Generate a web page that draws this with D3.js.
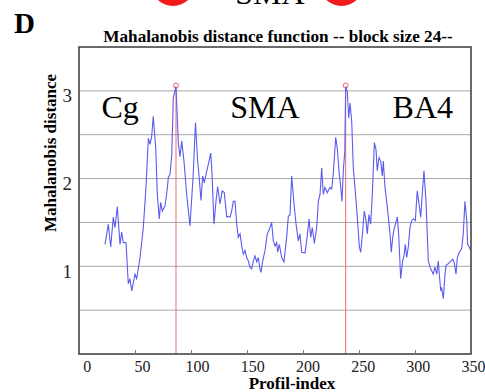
<!DOCTYPE html>
<html>
<head>
<meta charset="utf-8">
<script src="https://cdn.jsdelivr.net/npm/d3@7/dist/d3.min.js"></script>
<style>
  body { margin: 0; background: #fff; }
  svg { display: block; }
  text { font-family: "Liberation Serif", "Times New Roman", serif; }
</style>
</head>
<body>
<div id="chart"></div>
<script>
// Mahalanobis distance along the profile (panel D)

const profileIndex = [
    23.2, 26.2, 28.3, 30.6, 32.1, 34.2, 36.6, 38.1, 39.6, 42, 44, 45.5, 47.1, 50, 51.5, 54.5,
    57.4, 59.8, 61.9, 63.4, 64.9, 66.3, 68.5, 69.9, 71.7, 72.9, 74.4, 76.8, 78.8, 79.7, 81.3, 82.8,
    84.2, 86.6, 88.7, 90.2, 91.7, 93.8, 96.2, 99.1, 102, 104, 105.8, 107.4, 108.9, 110.4, 111.9, 113.8,
    115.4, 117.6, 118.8, 120.5, 122.3, 123.8, 125.9, 127.9, 129.7, 131.9, 133.3, 134.8, 136.3, 137.8, 139.3, 140.8,
    142.2, 143.8, 145.3, 146.7, 148.2, 149.7, 151.2, 152.7, 154.2, 155.6, 157.1, 158.7, 160.1, 161.6, 162.5, 164,
    166.1, 168.1, 169.9, 172, 173.5, 175, 176.5, 177.4, 178.8, 181, 183, 185.4, 186.9, 188.4, 189.9, 192,
    193.8, 195.8, 197.3, 198.8, 201.8, 203.3, 205.4, 206.9, 208.3, 210.1, 212.2, 213.7, 215.2, 216.7, 218.1, 219.6,
    221.7, 224.1, 225.6, 227, 229.2, 230.6, 232.1, 233.7, 234.8, 236, 237.3, 238.1, 239.6, 240.8, 242, 243.5,
    244.9, 246.4, 248.5, 250.3, 251.5, 253.3, 254.7, 256.3, 257.4, 258.9, 260.4, 261.9, 263.7, 265.2, 266.3, 267.9,
    269.4, 270.8, 271.7, 273.2, 274.7, 276.2, 277.7, 278.8, 280.1, 281.3, 283, 284.2, 285.4, 287.2, 289, 290.2,
    291.3, 292.6, 294, 295.5, 297, 298.5, 300.3, 302, 303.6, 305.1, 306.9, 308, 309.8, 311.9, 313.4, 314.9,
    316.3, 317.9, 319.4, 320.8, 321.7, 323, 323.8, 325.3, 326.8, 327.7, 329.7, 331.9, 333.7, 335.1, 336.6, 337.8,
    339.6, 341.7, 343.1, 344.6, 346.2, 347, 348.5, 349.7
];

const distance = [
    1.25, 1.48, 1.22, 1.56, 1.44, 1.68, 1.25, 1.39, 1.27, 1.27, 0.80, 0.86, 0.72, 0.91, 0.86, 1.10,
    1.44, 1.90, 2.46, 2.39, 2.48, 2.71, 2.35, 1.82, 1.54, 1.73, 1.63, 1.69, 1.88, 2.01, 2.05, 2.27,
    2.92, 3.05, 2.40, 2.25, 2.43, 2.19, 1.81, 1.46, 2.05, 2.64, 2.22, 2.00, 1.75, 2.03, 1.95, 2.07,
    2.16, 2.29, 2.05, 1.48, 1.74, 1.91, 1.71, 1.86, 1.84, 1.56, 1.57, 1.56, 1.63, 1.74, 1.74, 1.48,
    1.33, 1.37, 1.23, 1.14, 1.18, 1.10, 1.06, 0.99, 0.97, 1.06, 1.12, 1.05, 1.10, 0.97, 0.93, 1.06,
    1.18, 1.37, 1.42, 1.50, 1.29, 1.23, 1.27, 1.16, 1.25, 1.10, 1.05, 1.33, 1.57, 1.59, 2.03, 1.71,
    1.48, 1.29, 1.37, 1.16, 1.15, 1.29, 1.54, 1.33, 1.44, 1.26, 1.44, 1.74, 1.82, 2.12, 1.82, 1.90,
    1.84, 1.90, 1.88, 2.05, 2.47, 2.35, 2.09, 1.90, 1.74, 2.09, 2.31, 3.05, 2.99, 2.69, 2.86, 2.65,
    2.12, 1.90, 1.56, 1.22, 1.16, 1.40, 1.63, 1.52, 1.37, 1.59, 1.48, 1.82, 2.41, 2.33, 2.09, 2.24,
    2.20, 2.03, 2.20, 1.90, 1.74, 1.56, 1.37, 1.16, 1.33, 1.42, 1.50, 1.56, 1.37, 0.86, 1.06, 1.12,
    1.25, 1.10, 1.22, 1.44, 1.52, 1.54, 1.52, 1.86, 1.71, 1.56, 1.90, 2.09, 1.74, 1.06, 0.99, 0.95,
    0.91, 0.99, 0.91, 1.06, 0.91, 0.72, 0.76, 0.63, 0.91, 1.01, 1.03, 1.06, 1.08, 1.04, 0.91, 1.10,
    1.16, 1.20, 1.37, 1.74, 1.52, 1.25, 1.22, 1.18
];

// the two maxima marked with red lines
const peakIndex = [86.6, 238.1];
const peakValue = [3.06, 3.06];

const regionLabels = ['Cg', 'SMA', 'BA4'];
const regionLabelAt = [20, 135, 280];

const xTicks = [0, 50, 100, 150, 200, 250, 300, 350];
const yTicks = [1, 2, 3];
const yGrid = [0.5, 1, 1.5, 2, 2.5, 3];

const serif = '"Liberation Serif", "Times New Roman", Times, serif';

const margin = { top: 47, right: 14, bottom: 38, left: 79 };
const W = 485, H = 392;
const width = W - margin.left - margin.right;
const height = H - margin.top - margin.bottom;

const root = d3.select('#chart').append('svg')
    .attr('width', W)
    .attr('height', H)
    .attr('font-family', serif);

// bits of the panel above that are cut off at the top edge
root.selectAll('.top-dot')
    .data([173, 341.5])
    .enter()
    .append('circle')
    .attr('cx', d => d)
    .attr('cy', -16)
    .attr('r', 22)
    .attr('fill', '#f21a1a');

root.append('text')
    .attr('x', 270)
    .attr('y', 4)
    .attr('text-anchor', 'middle')
    .style('font-size', '32px')
    .text('SMA');

root.append('text')
    .attr('x', 14)
    .attr('y', 33)
    .style('font-size', '29px')
    .style('font-weight', 'bold')
    .text('D');

root.append('text')
    .attr('x', 278)
    .attr('y', 42)
    .attr('text-anchor', 'middle')
    .style('font-size', '17.2px')
    .style('font-weight', 'bold')
    .text('Mahalanobis distance function -- block size 24--');

const svg = root.append('g')
    .attr('transform', `translate(${margin.left},${margin.top})`);

const x = d3.scaleLinear().domain([0, 350]).range([0, width]);
const y = d3.scaleLinear().domain([0, 3.5]).range([height, 0]);
// tick labels in the figure sit a little to the right of their ticks
const xLabelPos = d3.scaleLinear().domain([0, 350]).range([7.7, width + 2]);

// grid
svg.selectAll('.grid')
    .data(yGrid)
    .enter()
    .append('line')
    .attr('x1', 0)
    .attr('x2', width)
    .attr('y1', d => y(d))
    .attr('y2', d => y(d))
    .attr('stroke', '#a8a8a8')
    .attr('stroke-width', 1);

// red markers
peakIndex.forEach((p, i) => {
    svg.append('line')
        .attr('x1', x(p))
        .attr('x2', x(p))
        .attr('y1', y(0))
        .attr('y2', y(peakValue[i]) + 2.5)
        .attr('stroke', '#f26b6b')
        .attr('stroke-width', 1);
    svg.append('circle')
        .attr('cx', x(p))
        .attr('cy', y(peakValue[i]))
        .attr('r', 2.5)
        .attr('fill', 'none')
        .attr('stroke', '#f06060')
        .attr('stroke-width', 1);
});

const line = d3.line()
    .x((d, i) => x(profileIndex[i]))
    .y(d => y(d));

svg.append('path')
    .datum(distance)
    .attr('d', line)
    .attr('fill', 'none')
    .attr('stroke', '#5c5cf0')
    .attr('stroke-width', 1.1);

// frame
svg.append('rect')
    .attr('width', width)
    .attr('height', height)
    .attr('fill', 'none')
    .attr('stroke', '#3a3a3a')
    .attr('stroke-width', 1.5);

// x axis
const xAxis = svg.append('g')
    .attr('transform', `translate(0,${height})`)
    .call(d3.axisBottom(x).tickValues(xTicks).tickSize(0).tickPadding(0));
xAxis.select('.domain').remove();
xAxis.selectAll('.tick text')
    .attr('x', d => xLabelPos(d) - x(d))
    .attr('y', 18)
    .attr('dy', 0)
    .attr('fill', '#222')
    .attr('font-family', serif)
    .style('font-size', '16px');
xAxis.selectAll('.tick')
    .filter(d => d > 0 && d < 350)
    .append('line')
    .attr('y1', 0)
    .attr('y2', -4)
    .attr('stroke', '#777');

// y axis labels
const yAxis = svg.append('g')
    .call(d3.axisLeft(y).tickValues(yTicks).tickFormat(d3.format('d')).tickSize(0).tickPadding(0));
yAxis.select('.domain').remove();
yAxis.selectAll('.tick text')
    .attr('x', -7)
    .attr('dy', 11)
    .attr('fill', '#222')
    .attr('font-family', serif)
    .style('font-size', '19px');

// axis titles
root.append('text')
    .attr('x', 292)
    .attr('y', 389)
    .attr('text-anchor', 'middle')
    .style('font-size', '17px')
    .style('font-weight', 'bold')
    .text('Profil-index');

root.append('text')
    .attr('transform', 'translate(56,153) rotate(-90)')
    .attr('text-anchor', 'middle')
    .style('font-size', '17px')
    .style('font-weight', 'bold')
    .text('Mahalanobis  distance');

// region names inside the plot
svg.selectAll('.region')
    .data(regionLabels)
    .enter()
    .append('text')
    .attr('x', (d, i) => x(regionLabelAt[i]))
    .attr('y', 71)
    .style('font-size', '32px')
    .text(d => d);
</script>
</body>
</html>
